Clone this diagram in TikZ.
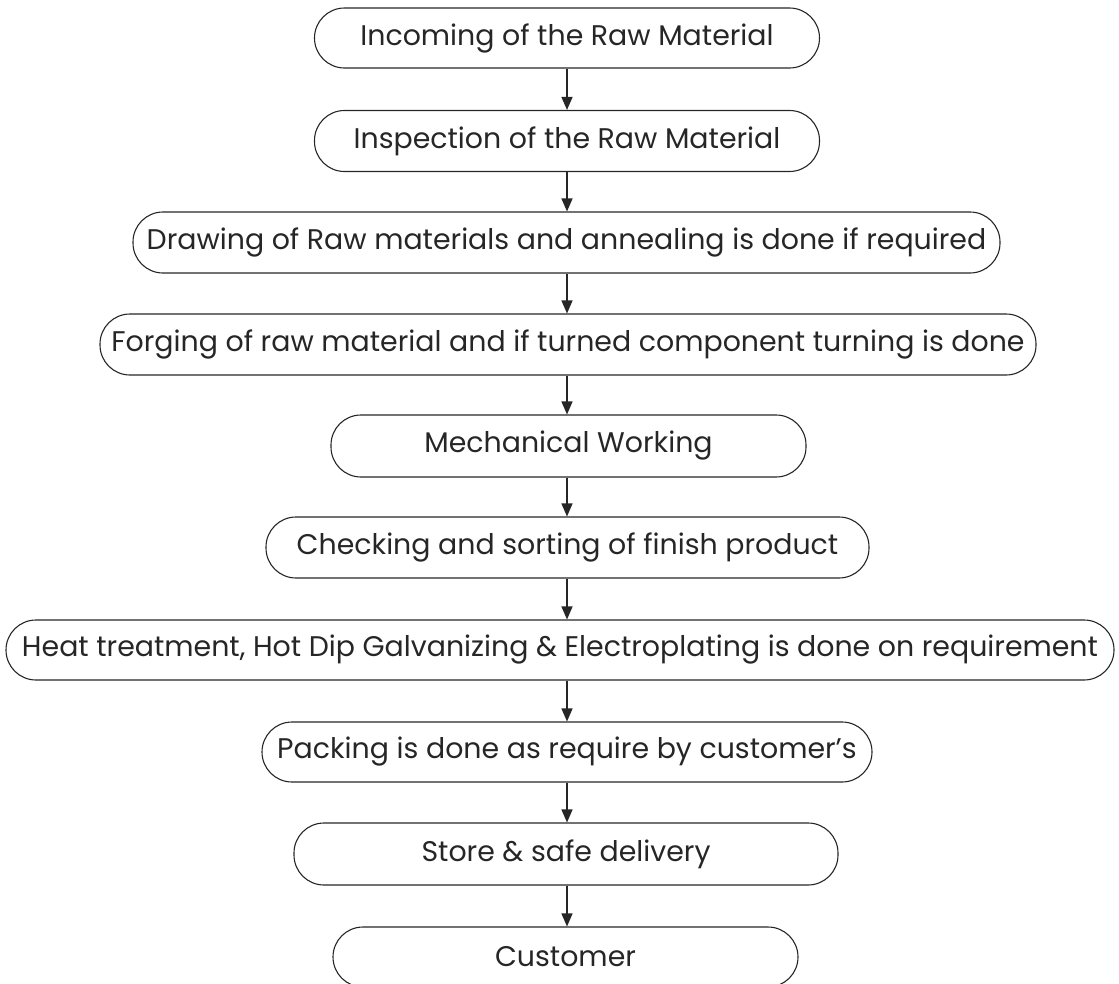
\documentclass[tikz,border=0pt]{standalone}
\usepackage{fontspec}
\setmainfont{Poppins}
\usetikzlibrary{arrows.meta}
\begin{document}
\begin{tikzpicture}[x=1pt,y=-1pt,
  stage/.style={draw=black!85, line width=1.1pt, rounded corners=30pt, font=\fontsize{28.4}{32}\selectfont, text=black!85, inner xsep=0pt},
  flow/.style={draw=black!85, line width=1.3pt, -{Triangle[length=13pt,width=11pt]}}]
\useasboundingbox (0,0) rectangle (1119,983);
\node[stage, minimum width=505pt, minimum height=60pt] (n1) at (567,38) {Incoming of the Raw Material};
\node[stage, minimum width=505pt, minimum height=61pt] (n2) at (567,141) {Inspection of the Raw Material};
\node[stage, minimum width=867pt, minimum height=61pt] (n3) at (566.5,242.5) {Drawing of Raw materials and annealing is done if required};
\node[stage, minimum width=936pt, minimum height=61pt] (n4) at (568,344.5) {Forging of raw material and if turned component turning is done};
\node[stage, minimum width=475pt, minimum height=62pt] (n5) at (568.5,446) {Mechanical Working};
\node[stage, minimum width=603pt, minimum height=61pt] (n6) at (567.5,547.5) {Checking and sorting of finish product};
\node[stage, minimum width=1108pt, minimum height=60pt] (n7) at (560,650) {Heat treatment, Hot Dip Galvanizing \& Electroplating is done on requirement};
\node[stage, minimum width=610pt, minimum height=60pt] (n8) at (567,752) {Packing is done as require by customer’s};
\node[stage, minimum width=544pt, minimum height=62pt] (n9) at (566,854) {Store \& safe delivery};
\node[stage, minimum width=465pt, minimum height=60pt] (n10) at (565.5,957) {Customer};
\foreach \a/\b in {n1/n2,n2/n3,n3/n4,n4/n5,n5/n6,n6/n7,n7/n8,n8/n9,n9/n10}
  \draw[flow] (\a.south -| 567,0) -- (\b.north -| 567,0);
\end{tikzpicture}
\end{document}
